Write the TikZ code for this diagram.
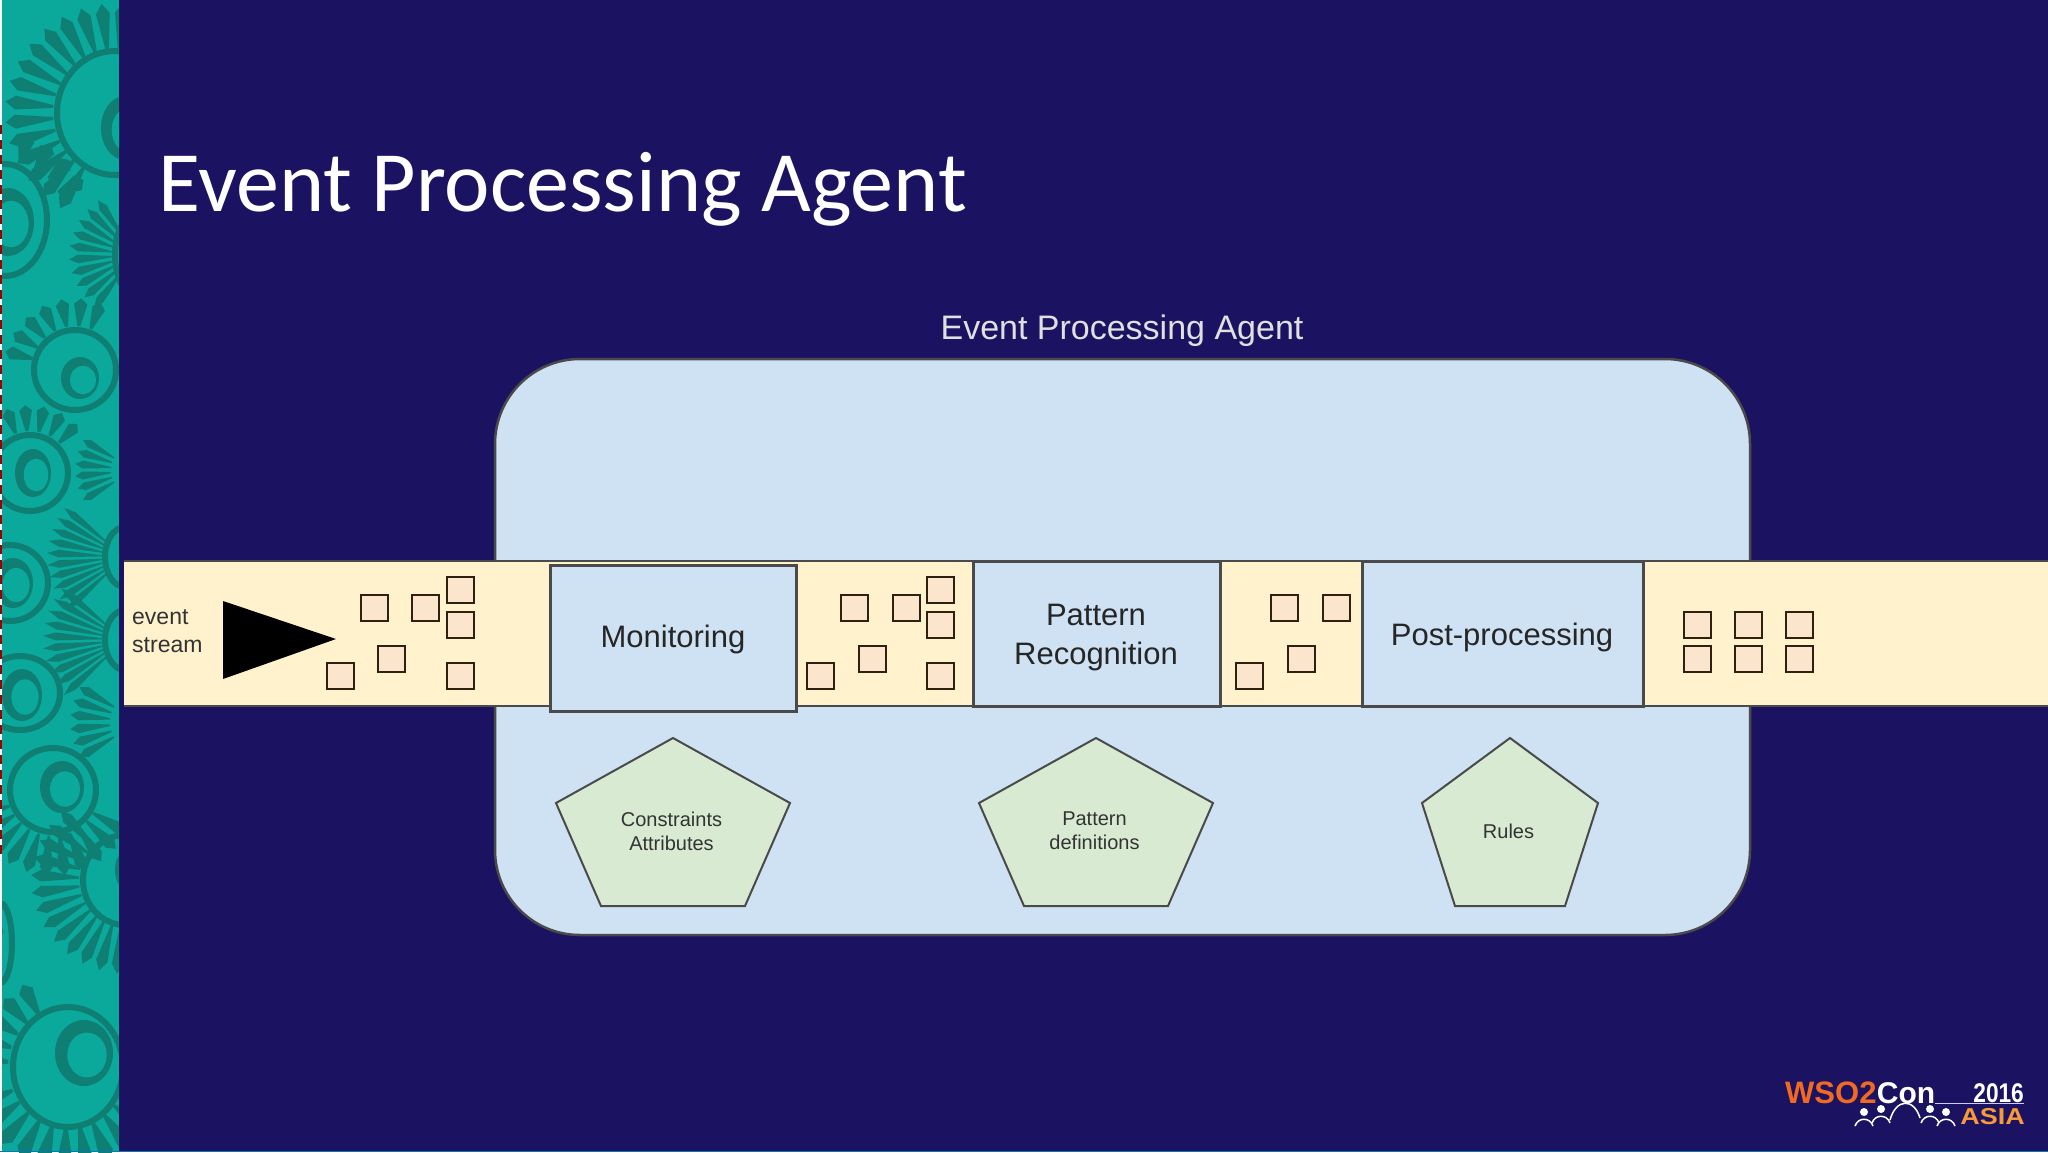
\documentclass[tikz,border=0pt]{standalone}
\usepackage{fontspec}
\setmainfont{Liberation Sans}
\newfontfamily\titlefont{Carlito}
\definecolor{slidebg}{HTML}{1B1262}
\definecolor{teal}{HTML}{0BA89C}
\definecolor{tealdark}{HTML}{0F7F74}
\definecolor{panelblue}{HTML}{CFE2F3}
\definecolor{streamyellow}{HTML}{FFF2CC}
\definecolor{itemorange}{HTML}{FCE5CD}
\definecolor{shapegreen}{HTML}{D9EAD3}
\definecolor{edgegray}{HTML}{4A4A4A}
\definecolor{logoorange}{HTML}{F26A22}
\definecolor{logoyellow}{HTML}{F8993A}
\def\stripw{119}
\def\boxfont{\fontsize{31}{39}\selectfont}
\def\smallfont{\fontsize{20}{24}\selectfont}
% eye of a feather: centre x, centre y, rx, ry, inner x, inner y, inner rx, inner ry
\newcommand{\featherEye}[8]{
    \draw[tealdark,line width=6pt] (#1,#2) ellipse ({#3} and {#4});
    \fill[tealdark] (#5,#6) ellipse ({#7} and {#8});
    \fill[teal] (#5+3,#6+2) ellipse ({#7*0.68} and {#8*0.68});
}
% barbs of a feather: centre x, centre y, inner radius, outer radius, angle step, first angle, last angle
\newcommand{\featherBarbs}[7]{
    \pgfmathsetmacro\barbmid{#3+0.8*(#4-#3)}
    \pgfmathsetmacro\barbnext{#6+#5}
    \foreach \a in {#6,\barbnext,...,#7}
        \fill[tealdark,shift={(#1,#2)}] (\a-0.12*#5:#3) -- (\a-0.36*#5:\barbmid) -- (\a:#4) -- (\a+0.36*#5:\barbmid) -- (\a+0.12*#5:#3) -- cycle;
}

\begin{document}
\begin{tikzpicture}[x=1pt,y=-1pt]
    \tikzstyle{panel}=[draw=edgegray,line width=2.5pt,fill=panelblue,rounded corners=85pt,minimum width=1255pt,minimum height=576pt,inner sep=0pt]
    \tikzstyle{stage}=[draw=edgegray,line width=3pt,fill=panelblue,inner sep=0pt]
    \tikzstyle{stagetext}=[inner sep=0pt,align=center,text=black!85,font=\boxfont]
    \tikzstyle{item}=[draw=black!75!brown,line width=2pt,fill=itemorange,minimum width=27pt,minimum height=26pt,inner sep=0pt]
    \tikzstyle{pentagon}=[draw=edgegray,line width=2pt,fill=shapegreen,line join=miter]
    \tikzstyle{pentatext}=[inner sep=0pt,align=center,text=black!80,font=\smallfont]

    \useasboundingbox (0,0) rectangle (2048,1152);
    \fill[slidebg] (0,0) rectangle (2048,1152);

    % Draw the feather strip
    \fill[teal] (0,0) rectangle (\stripw,1152);
    \begin{scope}
        \clip (2,0) rectangle (\stripw,1152);
        \featherBarbs{115}{113}{62}{110}{11}{120}{285}
        \featherBarbs{135}{255}{22}{66}{12}{128}{240}
        \featherBarbs{5}{220}{60}{88}{16}{285}{345}
        \featherBarbs{75}{370}{44}{72}{16}{195}{300}
        \featherBarbs{30}{473}{42}{68}{16}{250}{325}
        \featherBarbs{135}{470}{24}{60}{12}{150}{215}
        \featherBarbs{125}{557}{20}{78}{9}{138}{222}
        \featherBarbs{125}{640}{20}{82}{9}{138}{222}
        \featherBarbs{140}{722}{30}{70}{12}{150}{210}
        \featherBarbs{53}{790}{46}{86}{13}{30}{165}
        \featherBarbs{125}{880}{46}{94}{11}{95}{235}
        \featherBarbs{68}{1067}{60}{94}{14}{185}{250}
        \featherBarbs{68}{1067}{60}{102}{13}{40}{165}
        \featherEye{115}{113}{58}{62}{125}{128}{24}{32}
        \featherEye{135}{255}{20}{40}{135}{255}{8}{20}
        \featherEye{5}{220}{42}{56}{8}{222}{26}{34}
        \featherEye{75}{370}{41}{40}{80}{378}{19}{21}
        \featherEye{30}{473}{38}{38}{33}{473}{18}{24}
        \featherEye{125}{557}{20}{30}{125}{557}{6}{12}
        \featherEye{125}{640}{20}{30}{125}{640}{6}{12}
        \featherEye{10}{583}{38}{38}{13}{583}{20}{25}
        \featherEye{20}{693}{40}{37}{22}{695}{20}{26}
        \featherEye{53}{790}{43}{42}{62}{787}{22}{26}
        \featherEye{125}{880}{42}{45}{125}{870}{10}{18}
        \featherEye{0}{943}{12}{40}{0}{943}{4}{18}
        \featherEye{68}{1067}{55}{60}{84}{1053}{29}{33}
    \end{scope}
    \fill[white] (0,0) rectangle (2,1152);
    \draw[red!60!black,line width=2pt,dash pattern=on 9pt off 6pt] (1,125) -- (1,860);

    % Titles
    \node[anchor=base west,inner sep=0pt,text=white,font={\titlefont\fontsize{86}{86}\selectfont}] (title) at (158,211) {Event Processing Agent};
    \node[inner sep=0pt,text=white!88!black,font={\fontsize{34}{40}\selectfont}] (agentlabel) at (1122,331) {Event Processing Agent};

    % The agent panel and the stream in front of it
    \node[panel] (agent) at (1122.5,647) {};
    \fill[streamyellow] (124,561) rectangle (2048,706);
    \draw[edgegray,line width=2.5pt] (124,561) -- (2048,561);
    \draw[edgegray,line width=2.5pt] (124,706) -- (2048,706);

    % Draw the stages
    \node[stage,minimum width=246pt,minimum height=146pt] (monitoring) at (673,638) {};
    \node[stage,minimum width=247pt,minimum height=145pt] (pattern) at (1096.5,634) {};
    \node[stage,minimum width=281pt,minimum height=145pt] (post) at (1502.5,634) {};
    \node[stagetext] (monitoringtext) at (673,639) {Monitoring};
    \node[stagetext] (patterntext) at (1096,637.5) {Pattern\\Recognition};
    \node[stagetext] (posttext) at (1502,637) {Post-processing};

    % Draw the stream label and its triangle
    \node[anchor=west,inner sep=0pt,align=left,text=black!80,font={\fontsize{23}{28}\selectfont}] (eventstream) at (132,631) {event\\stream};
    \fill[black] (223,601) -- (336,639) -- (223,679) -- cycle;

    % Draw the events in the stream
    \foreach \x/\y [count=\i] in {374/608,425/608,460/590,460/625,391/659,340/676,460/676,
                                  854/608,906/608,940/590,940/625,872/659,820/676,940/676,
                                  1284/608,1336/608,1301/659,1249/676,
                                  1697/625,1748/625,1799/625,1697/659,1748/659,1799/659}
        \node[item] (S-\i) at (\x,\y) {};

    % Draw the pentagons
    \foreach \name/\cx/\hw/\bw/\lbl in {constraints/673/117/72/{Constraints\\Attributes},
                                        definitions/1096/117/72/{Pattern\\definitions},
                                        rules/1510/88/55/{Rules}} {
        \draw[pentagon] (\cx,738) -- (\cx+\hw,803) -- (\cx+\bw,906) -- (\cx-\bw,906) -- (\cx-\hw,803) -- cycle;
        \node[pentatext] (P-\name) at (\cx-1.5,831) {\lbl};
    }

    % The conference logo
    \node[anchor=base west,inner sep=0pt,text=logoorange,font={\bfseries\fontsize{31}{31}\selectfont}] (wso) at (1785,1103) {WSO2};
    \node[anchor=base west,inner sep=0pt,text=white,font={\bfseries\fontsize{30}{30}\selectfont}] (con) at (wso.base east) {Con};
    \node[anchor=base east,inner sep=0pt,text=white,xscale=0.84,font={\bfseries\fontsize{27}{27}\selectfont}] (year) at (2024,1102) {2016};
    \node[anchor=base east,inner sep=0pt,text=logoyellow,xscale=1.17,font={\bfseries\fontsize{23}{23}\selectfont}] (asia) at (2025,1124) {ASIA};
    \draw[white!80!blue,line width=1pt] (con.base east) -- (2024,1103);
    \foreach \x/\y in {1864/1112,1881/1109,1930/1109,1946/1112} {
        \fill[white] (\x,\y) circle (4);
        \draw[white,line width=1.5pt] (\x-9,\y+14) .. controls (\x-6,\y+5) and (\x+6,\y+5) .. (\x+9,\y+14);
    }
    \draw[white,line width=1.5pt] (1890,1120) .. controls (1896,1098) and (1914,1098) .. (1920,1118);

    % Thin line along the bottom
    \fill[teal!70!blue] (0,1150.5) rectangle (2048,1152);
\end{tikzpicture}
\end{document}
